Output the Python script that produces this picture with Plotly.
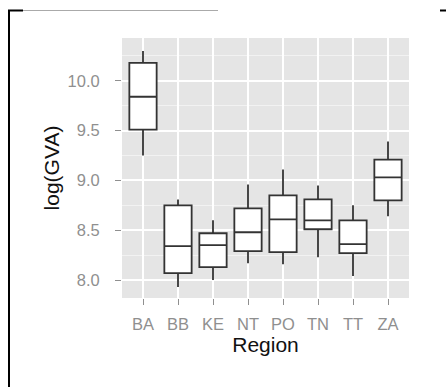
import plotly.graph_objects as go

# ---- data ----
regions = ["BA", "BB", "KE", "NT", "PO", "TN", "TT", "ZA"]
upper_whisker = [10.30, 8.81, 8.60, 8.96, 9.11, 8.95, 8.75, 9.39]
q3_values     = [10.18, 8.75, 8.47, 8.72, 8.85, 8.81, 8.60, 9.21]
medians       = [9.84, 8.34, 8.35, 8.48, 8.61, 8.60, 8.36, 9.03]
q1_values     = [9.51, 8.07, 8.13, 8.29, 8.28, 8.51, 8.27, 8.80]
lower_whisker = [9.25, 7.93, 8.00, 8.17, 8.16, 8.23, 8.04, 8.64]
y_ticks = [8.0, 8.5, 9.0, 9.5, 10.0]
y_tick_labels = ["8.0", "8.5", "9.0", "9.5", "10.0"]

W, H = 446, 387
ML, MR, MT, MB = 122, 37, 38, 89
PW, PH = W - ML - MR, H - MT - MB


def px(x):
    return (x - ML) / PW


def py(y):
    return (H - MB - y) / PH


fig = go.Figure()
fig.add_trace(go.Box(
    x=regions,
    q1=q1_values,
    median=medians,
    q3=q3_values,
    lowerfence=lower_whisker,
    upperfence=upper_whisker,
    fillcolor="white",
    line=dict(color="#333333", width=1.8),
    whiskerwidth=0,
    width=0.78,
    boxpoints=False,
    hoverinfo="skip",
    showlegend=False,
))

tick_font = dict(family="Liberation Sans, Arial, sans-serif", size=16.5, color="#8f8f8f")
title_font = dict(family="Liberation Sans, Arial, sans-serif", size=21, color="#111111")

fig.update_layout(
    width=W, height=H,
    margin=dict(l=ML, r=MR, t=MT, b=MB, pad=0),
    paper_bgcolor="white",
    plot_bgcolor="#E5E5E5",
    xaxis=dict(
        type="category",
        range=[-0.6, 7.6],
        showgrid=True, gridcolor="white", gridwidth=1.8,
        zeroline=False, showline=False,
        ticks="outside", ticklen=6, tickwidth=1.3, tickcolor="#8f8f8f",
        ticklabelstandoff=5,
        tickfont=tick_font,
        title=dict(text="Region", font=title_font, standoff=4),
    ),
    yaxis=dict(
        range=[7.82, 10.43],
        tickvals=y_ticks, ticktext=y_tick_labels,
        showgrid=True, gridcolor="white", gridwidth=1.8,
        minor=dict(showgrid=True, gridcolor="#F2F2F2", gridwidth=1, dtick=0.5, tick0=7.75),
        zeroline=False, showline=False,
        ticks="outside", ticklen=6, tickwidth=1.3, tickcolor="#8f8f8f",
        ticklabelstandoff=12,
        tickfont=tick_font,
        title=dict(text="log(GVA)", font=title_font, standoff=2),
    ),
    shapes=[
        # frame fragments of the screenshot
        dict(type="line", xref="paper", yref="paper", x0=px(9), x1=px(9), y0=py(10), y1=py(H + 5),
             line=dict(color="black", width=2)),
        dict(type="line", xref="paper", yref="paper", x0=px(8), x1=px(23), y0=py(10.5), y1=py(10.5),
             line=dict(color="black", width=2)),
        dict(type="line", xref="paper", yref="paper", x0=px(23), x1=px(218), y0=py(10.5), y1=py(10.5),
             line=dict(color="#AAAAAA", width=1)),
        dict(type="line", xref="paper", yref="paper", x0=px(440), x1=px(447), y0=py(10.5), y1=py(10.5),
             line=dict(color="black", width=2)),
    ],
)

fig.write_html("out.html")
